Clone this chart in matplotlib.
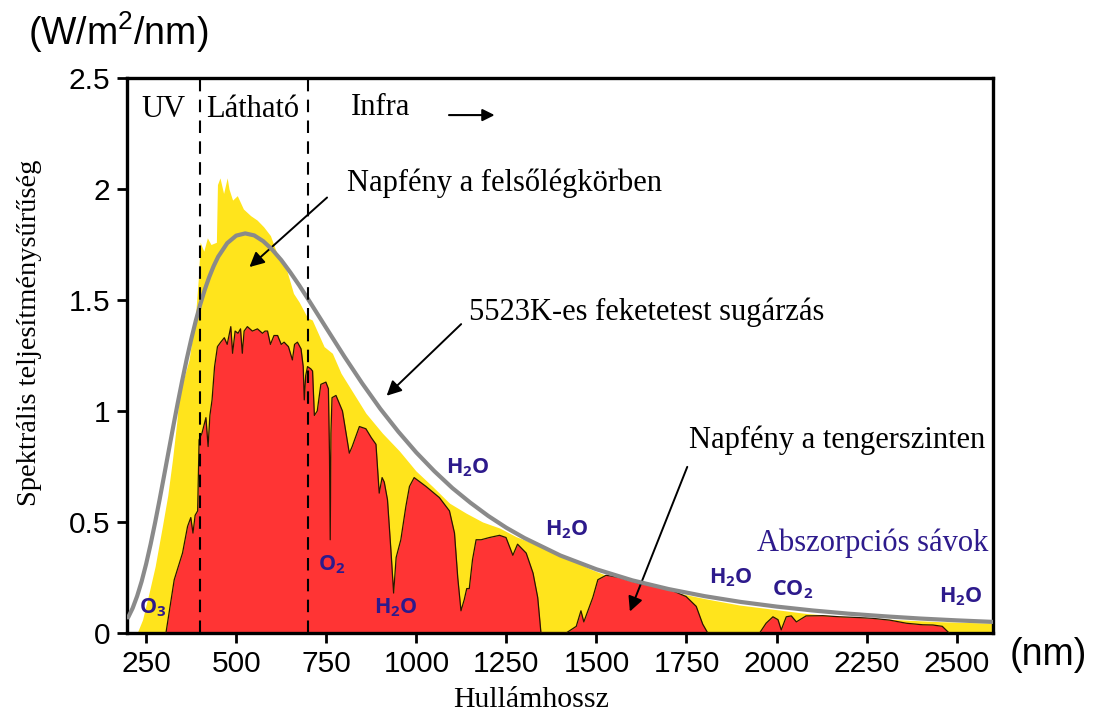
import matplotlib
matplotlib.use("Agg")
import matplotlib.pyplot as plt

# Extraterrestrial (top of atmosphere) spectral irradiance, W/m^2/nm
wl_top = [225, 240, 258, 275, 295, 310, 323, 335, 342, 355, 369, 380, 388, 395,
          400, 410, 420, 430, 445, 448, 455, 465, 475, 480, 490, 503, 520, 540,
          558, 576, 595, 613, 641, 659, 675, 698, 711, 744, 767, 791, 814, 860, 906,
          953, 999, 1045, 1092, 1138, 1184, 1231, 1277, 1322, 1369, 1420, 1480,
          1527, 1600, 1711, 1800, 1897, 2000, 2082, 2180, 2267, 2360, 2453, 2600]
irr_top = [0.0, 0.06, 0.18, 0.30, 0.48, 0.62, 0.78, 0.95, 1.08, 1.15, 1.23, 1.35, 1.45, 1.60,
           1.76, 1.72, 1.78, 1.75, 1.76, 2.02, 2.05, 1.98, 2.05, 2.00, 1.95, 1.97, 1.91, 1.88,
           1.86, 1.83, 1.79, 1.71, 1.63, 1.53, 1.49, 1.42, 1.41, 1.29, 1.26, 1.17, 1.11, 0.99, 0.90,
           0.82, 0.73, 0.66, 0.585, 0.54, 0.50, 0.473, 0.434, 0.405, 0.374, 0.34, 0.29,
           0.26, 0.225, 0.186, 0.155, 0.126, 0.105, 0.088, 0.075, 0.066, 0.058, 0.051, 0.044]

# Spectral irradiance at sea level, W/m^2/nm
wl_sea = [305, 328, 351, 365, 374, 380, 386, 393, 397, 405, 416, 422, 427, 433, 440,
          448, 457, 467, 475, 485, 490, 497, 505, 512, 517, 522, 531, 545, 559, 573,
          580, 587, 595, 605, 615, 625, 633, 645, 656, 662, 670, 680, 686, 689, 693,
          698, 707, 712, 717, 725, 735, 749, 756, 759, 761, 763, 766, 777, 795, 805,
          814, 822, 842, 860, 875, 888, 897, 905, 911, 920, 930, 937, 944, 957, 971,
          981, 994, 1027, 1064, 1092, 1106, 1115, 1124, 1133, 1140, 1147, 1156, 1166,
          1180, 1203, 1231, 1249, 1268, 1281, 1305, 1324, 1337, 1346, 1416, 1444,
          1457, 1465, 1490, 1504, 1527, 1564, 1619, 1666, 1712, 1749, 1777, 1795,
          1809, 1953, 1971, 1990, 2004, 2013, 2027, 2041, 2055, 2082, 2128, 2175,
          2221, 2267, 2314, 2360, 2406, 2434, 2460, 2479]
irr_sea = [0.0, 0.24, 0.36, 0.48, 0.52, 0.45, 0.53, 0.55, 0.87, 0.90, 0.97, 0.84, 0.98, 1.05, 1.20,
           1.29, 1.31, 1.33, 1.30, 1.38, 1.26, 1.36, 1.35, 1.37, 1.26, 1.36, 1.38, 1.36, 1.37, 1.35,
           1.36, 1.36, 1.30, 1.34, 1.34, 1.30, 1.31, 1.29, 1.23, 1.30, 1.31, 1.28, 1.20, 1.05, 1.16,
           1.20, 1.19, 1.18, 0.98, 1.00, 1.12, 1.13, 1.10, 0.80, 0.42, 0.90, 1.06, 1.07, 1.00, 0.90,
           0.81, 0.84, 0.93, 0.92, 0.88, 0.85, 0.63, 0.70, 0.68, 0.60, 0.36, 0.18, 0.34, 0.42, 0.57,
           0.66, 0.70, 0.66, 0.61, 0.55, 0.45, 0.25, 0.10, 0.15, 0.20, 0.20, 0.33, 0.42,
           0.42, 0.43, 0.44, 0.43, 0.35, 0.40, 0.36, 0.27, 0.16, 0.0, 0.0, 0.03,
           0.10, 0.05, 0.16, 0.24, 0.26, 0.25, 0.224, 0.21, 0.19, 0.164, 0.12, 0.04,
           0.0, 0.0, 0.044, 0.073, 0.06, 0.014, 0.073, 0.077, 0.05, 0.077, 0.078, 0.073,
           0.07, 0.066, 0.058, 0.044, 0.037, 0.036, 0.03, 0.0]

# 5523 K blackbody curve, scaled to the solar spectrum
wl_bb = [200, 212.5, 225, 237.5, 250, 262.5, 275, 287.5, 300, 312.5, 325, 337.5,
         350, 362.5, 375, 387.5, 400, 412.5, 425, 437.5, 450, 475, 500, 525, 550,
         575, 600, 625, 650, 675, 700, 750, 800, 850, 900, 950, 1000, 1050, 1100,
         1150, 1200, 1250, 1300, 1400, 1500, 1600, 1700, 1800, 1900, 2000, 2100,
         2200, 2300, 2400, 2500, 2600]
irr_bb = [0.070, 0.1115, 0.166, 0.2323, 0.311, 0.4004, 0.498, 0.6021, 0.710, 0.8194,
          0.928, 1.0343, 1.136, 1.2325, 1.322, 1.4046, 1.479, 1.5452, 1.603, 1.653,
          1.695, 1.756, 1.790, 1.800, 1.791, 1.765, 1.727, 1.680, 1.625, 1.566, 1.503,
          1.374, 1.246, 1.124, 1.010, 0.907, 0.813, 0.729, 0.653, 0.587, 0.527, 0.474,
          0.428, 0.349, 0.287, 0.237, 0.198, 0.166, 0.140, 0.119, 0.1015, 0.087,
          0.0752, 0.065, 0.0569, 0.050]

x_ticks = [250, 500, 750, 1000, 1250, 1500, 1750, 2000, 2250, 2500]
y_ticks = [0, 0.5, 1, 1.5, 2, 2.5]
y_tick_labels = ["0", "0.5", "1", "1.5", "2", "2.5"]
band_edges = [400, 700]

# Absorption band labels: (text, wavelength, irradiance)
molecules = [
    (r"$\mathbf{O_3}$", 267, 0.113),
    (r"$\mathbf{O_2}$", 764, 0.306),
    (r"$\mathbf{H_2O}$", 942, 0.113),
    (r"$\mathbf{H_2O}$", 1142, 0.743),
    (r"$\mathbf{H_2O}$", 1417, 0.464),
    (r"$\mathbf{H_2O}$", 1872, 0.248),
    (r"$\mathbf{CO_2}$", 2044, 0.194),
    (r"$\mathbf{H_2O}$", 2511, 0.162),
]

YELLOW = "#ffe41c"
RED = "#ff3434"
GREY = "#8a8a8a"
INDIGO = "#2d1a8c"
SERIF = "Liberation Serif"
SANS = "Liberation Sans"

plt.rcParams["mathtext.fontset"] = "custom"
plt.rcParams["mathtext.bf"] = "Open Sans:bold"
plt.rcParams["mathtext.rm"] = "Liberation Sans"

fig = plt.figure(figsize=(10.99, 7.15), dpi=100)
ax = fig.add_axes([0.1156, 0.1147, 0.7880, 0.7762])

ax.fill_between(wl_top, irr_top, 0, color=YELLOW, lw=0, zorder=1)
ax.fill_between(wl_sea, irr_sea, 0, color=RED, lw=0, zorder=2)
ax.plot(wl_sea, irr_sea, color="#2a1500", lw=0.9, zorder=3)
ax.plot(wl_bb, irr_bb, color=GREY, lw=3.0, zorder=4, solid_capstyle="round")

for xe in band_edges:
    ax.axvline(xe, color="black", lw=1.5, dashes=(6, 4), zorder=5)

ax.set_xlim(197, 2601)
ax.set_ylim(0, 2.5)
ax.set_xticks(x_ticks)
ax.set_xticklabels([str(t) for t in x_ticks], fontfamily=SANS, fontsize=21.5)
ax.set_yticks(y_ticks)
ax.set_yticklabels(y_tick_labels, fontfamily=SANS, fontsize=21.5)
ax.tick_params(direction="out", length=7, width=2, pad=5)
for sp in ax.spines.values():
    sp.set_linewidth(2.4)

# Region labels
ax.text(297, 2.36, "UV", family=SERIF, fontsize=22, ha="center", va="center")
ax.text(547, 2.36, "Látható", family=SERIF, fontsize=22, ha="center", va="center")
ax.text(900, 2.365, "Infra", family=SERIF, fontsize=22, ha="center", va="center")
ax.annotate("", xy=(1225, 2.333), xytext=(1083, 2.333),
            arrowprops=dict(arrowstyle="-|>", color="black", lw=1.5, mutation_scale=18))

# Curve labels with arrows
ax.text(808, 2.025, "Napfény a felsőlégkörben", family=SERIF, fontsize=22,
        ha="left", va="center")
ax.annotate("", xy=(531, 1.64), xytext=(758, 1.97),
            arrowprops=dict(arrowstyle="-|>", color="black", lw=1.4, mutation_scale=22))
ax.text(1147, 1.446, "5523K-es feketetest sugárzás", family=SERIF, fontsize=22,
        ha="left", va="center")
ax.annotate("", xy=(912, 1.06), xytext=(1130, 1.40),
            arrowprops=dict(arrowstyle="-|>", color="black", lw=1.4, mutation_scale=22))
ax.text(1758, 0.87, "Napfény a tengerszinten", family=SERIF, fontsize=22,
        ha="left", va="center")
ax.annotate("", xy=(1590, 0.085), xytext=(1755, 0.76),
            arrowprops=dict(arrowstyle="-|>", color="black", lw=1.4, mutation_scale=22))
ax.text(1947, 0.405, "Abszorpciós sávok", family=SERIF, fontsize=22, color=INDIGO,
        ha="left", va="center")

for label, xm, ym in molecules:
    ax.text(xm, ym, label, fontsize=15.5, color=INDIGO, ha="center", va="center", zorder=6)

# Axis titles and units
fig.text(0.0255, 0.955, r"(W/m$^2$/nm)", family=SANS, fontsize=27, ha="left", va="center")
fig.text(0.9190, 0.084, "(nm)", family=SANS, fontsize=27, ha="left", va="center")
fig.text(0.483, 0.021, "Hullámhossz", family=SERIF, fontsize=21.5, ha="center", va="center")
fig.text(0.027, 0.534, "Spektrális teljesítménysűrűség", family=SERIF, fontsize=20.5,
         ha="center", va="center", rotation=90)

fig.savefig("out.png", dpi=100)
